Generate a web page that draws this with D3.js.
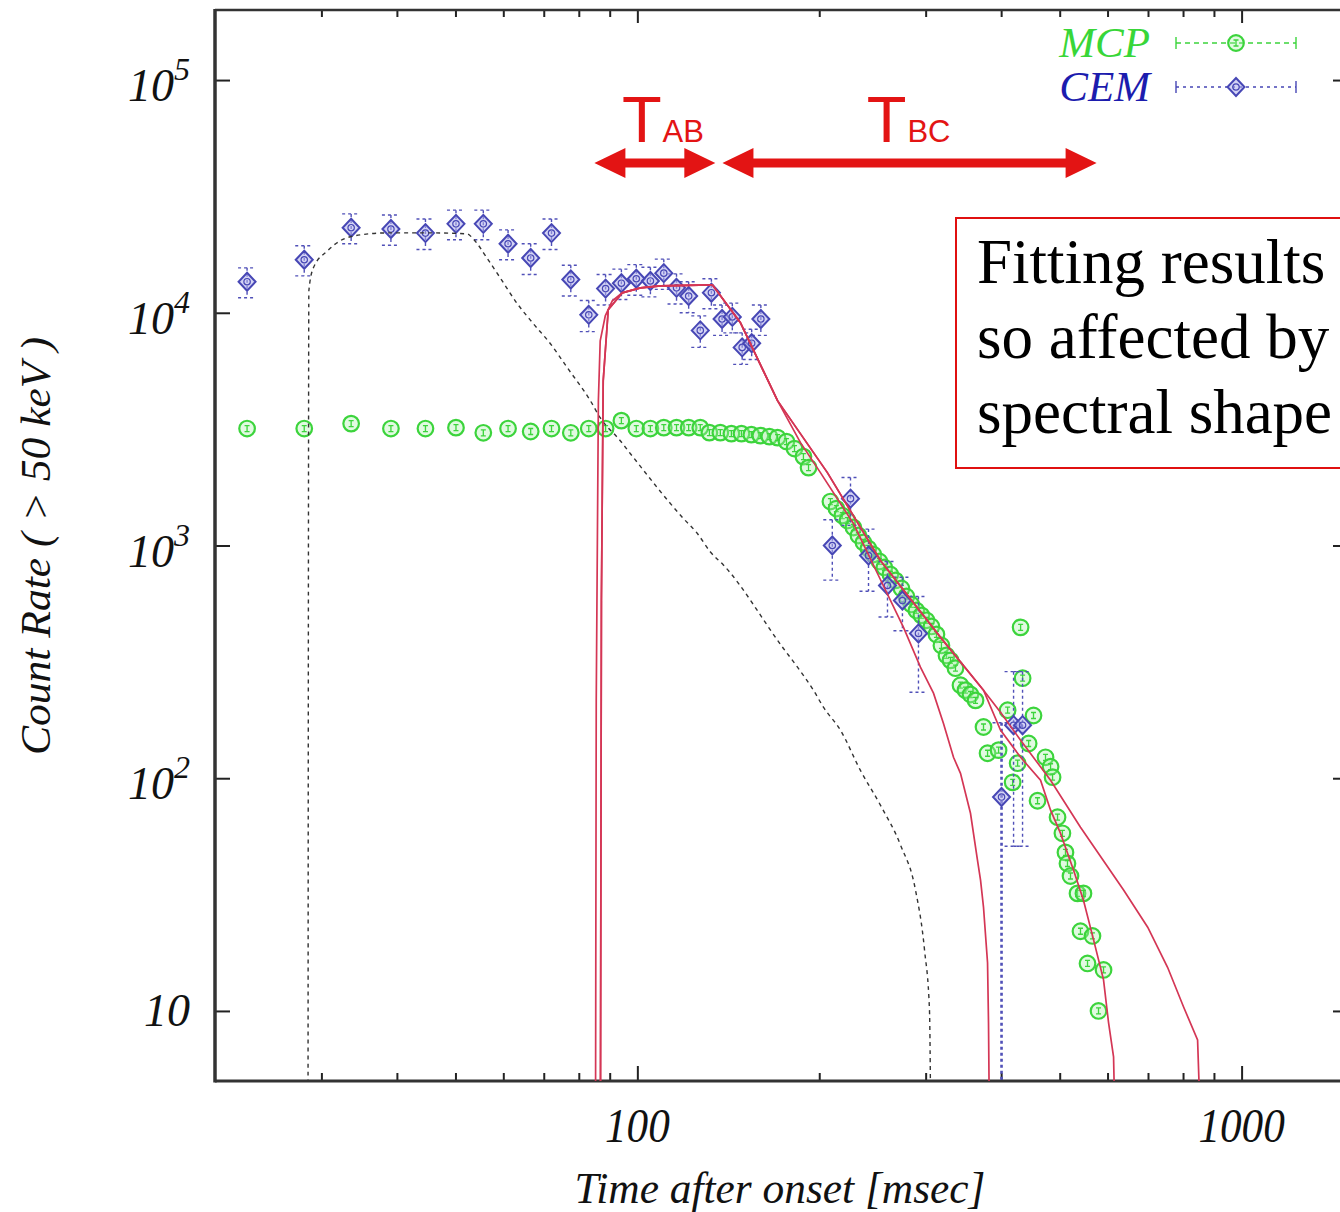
<!DOCTYPE html>
<html>
<head>
<meta charset="utf-8">
<script src="https://cdn.jsdelivr.net/npm/d3@7"></script>
<style>
  html, body { margin: 0; padding: 0; background: #fff; }
  svg { display: block; }
</style>
</head>
<body>
<svg id="chart" width="1340" height="1212"></svg>
<script>
// ---- data (time in msec, count rate) ----
const mcpTime = [22.6, 28.1, 33.6, 39.1, 44.6, 50.1, 55.6, 61.1, 66.6, 72.1, 77.6, 83.1, 88.6, 94.1, 99.6, 105.1, 110.6, 116.1, 121.6, 127.1,
  131.6, 137.2, 143.1, 148.7, 154.4, 159.8, 165.4, 170.6, 176.5, 182.0, 188.3, 192.0,
  208.7, 213.5, 218.4, 222.7, 227.8, 232.2, 236.7, 241.2, 245.8, 251.6, 256.3, 262.3, 267.4, 273.6, 278.8, 284.1, 289.6, 295.2,
  300.9, 306.7, 312.6, 318.6, 324.8, 329.8, 336.1, 342.6, 349.2, 355.9, 362.8,
  374.0, 379.8, 396.1, 410.0, 417.9, 425.9, 430.8, 434.1, 444.2, 452.5, 459.5, 473.7, 482.9, 486.6, 495.9, 505.2, 511.1, 515.0,
  521.0, 535.1, 541.2, 547.4, 555.9, 566.5, 579.7, 590.9];
const mcpRate = [3180, 3180, 3340, 3180, 3180, 3210, 3050, 3180, 3090, 3180, 3050, 3180, 3180, 3440, 3180, 3180, 3210, 3210, 3210, 3210,
  3055, 3055, 3025, 3025, 2995, 2966, 2937, 2908, 2796, 2609, 2410, 2161,
  1545, 1441, 1345, 1280, 1195, 1104, 1030, 971, 915, 854, 805, 751, 708, 654, 604, 558, 526, 501,
  477, 449, 415, 372, 337, 321, 297, 251, 239, 229, 216,
  166, 128, 132, 196, 96, 116, 445, 269, 141, 186, 80, 123, 112, 101, 68, 58, 48, 43,
  38, 32, 22, 32, 16, 21, 10, 15];

const cemTime = [22.6, 28.1, 33.6, 39.1, 44.6, 50.1, 55.6, 61.1, 66.6, 72.1, 77.6, 83.1, 88.6, 94.1, 99.6, 105.1, 110.6, 116.1,
  121.6, 127.1, 132.6, 138.1, 143.6, 149.1, 154.6, 160.1, 210.2, 225.3, 241.3, 259.4, 274.6, 291.9, 400.6, 419.4, 434.0];
const cemRate = [13600, 16900, 23200, 22900, 22000, 24100, 24100, 19800, 17200, 22000, 13900, 9800, 12700, 13400, 14000, 13700, 14800, 12800,
  11800, 8400, 12200, 9400, 9600, 7100, 7400, 9400, 1000, 1590, 906, 673, 580, 419, 83, 169, 169];
const cemErr = [2000, 2500, 3400, 3400, 3300, 3500, 3500, 2900, 2600, 3300, 2100, 1500, 1900, 2000, 2100, 2000, 2200, 1900,
  1800, 1300, 1800, 1400, 1400, 1100, 1100, 1400, 290, 370, 270, 180, 150, 185, 90, 118, 118];

// model curves [time, rate]
const fitDashed = [[28.5, 1], [28.6, 12430], [29.1, 15600], [30.7, 18460], [32.2, 20370], [34.8, 21610], [38.6, 22040], [45.9, 22040],
  [52.3, 21830], [53.5, 20780], [56.5, 17050], [59.3, 14130], [63.3, 10930], [67.3, 8970], [71.8, 7360], [76.6, 5800], [83.6, 4190],
  [86.8, 3540], [93.7, 2820], [97.4, 2480], [119.2, 1306], [125.7, 1126], [132.1, 938], [138.8, 825], [174.5, 361], [184.1, 300],
  [195.6, 239], [203.2, 202], [216.8, 161], [234.0, 108], [252.5, 76.6], [272.6, 51.6], [288.6, 33.1], [298.7, 18.3], [304.4, 10.1], [306.7, 1]];
const fitA = [[85.2, 1], [85.5, 216], [86.2, 4192], [86.8, 7583], [88.5, 9708], [90.9, 11260], [94.4, 12180], [101.2, 12800], [109.2, 13060],
  [133.1, 13190], [148.1, 9060], [170.6, 4192], [186.2, 2768], [200.9, 2057], [227.8, 1243], [249.7, 758], [275.7, 445],
  [294.1, 300], [309.1, 232], [321.1, 172], [333.6, 123], [342.6, 105], [355.9, 70.7], [365.5, 44.5], [369.8, 36.5], [374.0, 27.9],
  [379.8, 16.1], [381.2, 8.9], [384.1, 1]];
const fitB = [[86.8, 1], [87.2, 581], [87.8, 5107], [89.5, 10300], [94.4, 12180], [101.2, 12800], [109.2, 13060], [133.1, 13190],
  [148.1, 9060], [170.6, 4192], [206.3, 2057], [252.5, 862], [317.5, 403], [374.0, 239], [399.0, 161], [430.8, 123], [464.8, 98],
  [482.9, 72.9], [501.4, 58.1], [527.0, 40.3], [547.4, 29.9], [568.9, 20.2], [590.9, 13.6], [602.3, 8.9], [613.9, 6.35], [623.4, 1]];
const fitC = [[86.8, 1], [87.2, 581], [87.8, 5107], [89.5, 10300], [94.4, 12180], [101.2, 12800], [109.2, 13060], [133.1, 13190],
  [148.1, 9060], [170.6, 4192], [206.3, 2057], [252.5, 862], [317.5, 403], [374.0, 239], [399.0, 192], [430.8, 145.6], [482.9, 98.0],
  [541.2, 61.6], [637.8, 33.1], [699.2, 22.9], [754.2, 15.4], [801.7, 10.4], [845.6, 7.5], [868.0, 1]];

const xMajor = [100, 1000];
const xMinor = [30, 40, 50, 60, 70, 80, 90, 200, 300, 400, 500, 600, 700, 800, 900];
const yTicks = [10, 100, 1000, 10000, 100000];
const yTickExp = ['', '2', '3', '4', '5'];

// T_AB / T_BC intervals (msec) and the rate level they are drawn at
const spans = [
  { name: 'AB', from: 84.9, to: 134.6, label: 95.0 },
  { name: 'BC', from: 138.3, to: 575.5, label: 241.5 }
];
const spanRate = 44000;

const noteLines = ['Fitting results', 'so affected by', 'spectral shape'];

// ---- setup ----
const W = 1340, H = 1212;
const plot = { left: 215, top: 10, right: 1348, bottom: 1081 };
const serif = '"Liberation Serif", "DejaVu Serif", serif';
const sans = '"Liberation Sans", Arial, sans-serif';

const svg = d3.select('#chart');
svg.append('rect').attr('width', W).attr('height', H).attr('fill', '#fff');

const x = d3.scaleLog().domain([20, 1500]).range([plot.left, plot.right]);
const y = d3.scaleLog().domain([5, 2e5]).range([plot.bottom, plot.top]);

svg.append('defs').append('clipPath').attr('id', 'clip')
  .append('rect')
  .attr('x', plot.left).attr('y', plot.top)
  .attr('width', plot.right - plot.left).attr('height', plot.bottom - plot.top);

// ticks (all pointing inward, mirrored)
function ticks(axis, tr) {
  const g = svg.append('g').attr('transform', tr).call(axis);
  g.select('.domain').remove();
  g.selectAll('text').remove();
  g.selectAll('line').attr('stroke', '#222').attr('stroke-width', 2);
}
ticks(d3.axisBottom(x).tickValues(xMajor).tickSize(-15), `translate(0,${plot.bottom})`);
ticks(d3.axisBottom(x).tickValues(xMinor).tickSize(-8), `translate(0,${plot.bottom})`);
ticks(d3.axisTop(x).tickValues(xMajor).tickSize(-13), `translate(0,${plot.top})`);
ticks(d3.axisTop(x).tickValues(xMinor).tickSize(-7), `translate(0,${plot.top})`);
ticks(d3.axisLeft(y).tickValues(yTicks).tickSize(-15), `translate(${plot.left},0)`);
ticks(d3.axisRight(y).tickValues(yTicks).tickSize(-15), `translate(${plot.right},0)`);

// frame
svg.append('line').attr('x1', plot.left).attr('x2', W).attr('y1', plot.top).attr('y2', plot.top)
  .attr('stroke', '#333').attr('stroke-width', 2.5);
svg.append('line').attr('x1', plot.left).attr('x2', W).attr('y1', plot.bottom).attr('y2', plot.bottom)
  .attr('stroke', '#333').attr('stroke-width', 3);
svg.append('line').attr('x1', plot.left).attr('x2', plot.left).attr('y1', plot.top - 1).attr('y2', plot.bottom + 1.5)
  .attr('stroke', '#333').attr('stroke-width', 3.5);

// tick labels
svg.selectAll('.xlab').data(xMajor).join('text')
  .attr('x', d => x(d)).attr('y', 1142)
  .attr('text-anchor', 'middle')
  .attr('font-family', serif).attr('font-style', 'italic').attr('font-size', 48)
  .attr('textLength', d => String(d).length * 21.6).attr('lengthAdjust', 'spacingAndGlyphs')
  .attr('fill', '#111')
  .text(d => d);

const ylab = svg.selectAll('.ylab').data(yTicks).join('text')
  .attr('x', 190)
  .attr('y', (d, i) => y(d) + (yTickExp[i] ? 21 : 15))
  .attr('text-anchor', 'end')
  .attr('font-family', serif).attr('font-style', 'italic').attr('font-size', 46)
  .attr('fill', '#111');
ylab.append('tspan').text('10');
ylab.filter((d, i) => yTickExp[i])
  .append('tspan').attr('dy', -21).attr('font-size', 32)
  .text(d => yTickExp[yTicks.indexOf(d)]);

// axis titles
svg.append('text')
  .attr('x', 780).attr('y', 1203)
  .attr('text-anchor', 'middle')
  .attr('font-family', serif).attr('font-style', 'italic').attr('font-size', 44)
  .attr('textLength', 411).attr('lengthAdjust', 'spacingAndGlyphs')
  .attr('fill', '#111')
  .text('Time after onset [msec]');
svg.append('text')
  .attr('transform', 'translate(50,546) rotate(-90)')
  .attr('text-anchor', 'middle')
  .attr('font-family', serif).attr('font-style', 'italic').attr('font-size', 42)
  .attr('textLength', 418).attr('lengthAdjust', 'spacingAndGlyphs')
  .attr('fill', '#111')
  .text('Count Rate ( > 50 keV )');

// ---- data layer ----
const green = '#3cd43c';
const blue = '#4747b5';
const red = '#d43655';
const layer = svg.append('g').attr('clip-path', 'url(#clip)');

const mcp = mcpTime.map((t, i) => ({ t, c: mcpRate[i] }));
const cem = cemTime.map((t, i) => ({ t, c: cemRate[i], e: cemErr[i] }));

function circleMark(g) {
  g.append('circle').attr('r', 7.8)
    .attr('fill', 'rgba(170,240,170,0.35)').attr('stroke', green).attr('stroke-width', 2.2);
  g.append('path').attr('d', 'M-2.5,-3H2.5M0,-3V3M-2.5,3H2.5')
    .attr('stroke', green).attr('stroke-width', 1.3).attr('fill', 'none');
}
function diamondMark(g) {
  g.append('path').attr('d', 'M0,-9L8.5,0L0,9L-8.5,0Z')
    .attr('fill', 'rgba(175,175,235,0.55)').attr('stroke', blue).attr('stroke-width', 2);
  g.append('circle').attr('r', 3.2).attr('fill', 'none').attr('stroke', blue).attr('stroke-width', 1.2);
}

// MCP points
layer.append('g').selectAll('g').data(mcp).join('g')
  .attr('transform', d => `translate(${x(d.t)},${y(d.c)})`)
  .each(function () { circleMark(d3.select(this)); });

// CEM error bars
const eb = layer.append('g').selectAll('g').data(cem).join('g')
  .attr('stroke', '#5050b8').attr('stroke-width', 1.4).attr('stroke-dasharray', '3,3').attr('fill', 'none');
eb.append('line')
  .attr('x1', d => x(d.t)).attr('x2', d => x(d.t))
  .attr('y1', d => y(d.c + d.e))
  .attr('y2', d => (d.c - d.e > 1 ? y(d.c - d.e) : plot.bottom + 5))
  .attr('stroke-width', d => (d.c - d.e > 1 ? 1.4 : 2.6));
eb.append('line')
  .attr('x1', d => x(d.t) - 9).attr('x2', d => x(d.t) + 9)
  .attr('y1', d => y(d.c + d.e)).attr('y2', d => y(d.c + d.e));
eb.filter(d => d.c - d.e > 1).append('line')
  .attr('x1', d => x(d.t) - 9).attr('x2', d => x(d.t) + 9)
  .attr('y1', d => y(d.c - d.e)).attr('y2', d => y(d.c - d.e));

// CEM points
layer.append('g').selectAll('g').data(cem).join('g')
  .attr('transform', d => `translate(${x(d.t)},${y(d.c)})`)
  .each(function () { diamondMark(d3.select(this)); });

// model curves
const line = d3.line().x(d => x(d[0])).y(d => y(d[1]));
const smooth = d3.line().x(d => x(d[0])).y(d => y(d[1])).curve(d3.curveMonotoneX);
layer.append('path').datum(fitDashed).attr('d', smooth)
  .attr('fill', 'none').attr('stroke', '#333').attr('stroke-width', 1.4).attr('stroke-dasharray', '4,4');
[fitC, fitB, fitA].forEach(f => {
  layer.append('path').datum(f).attr('d', line)
    .attr('fill', 'none').attr('stroke', red).attr('stroke-width', 1.7);
});

// ---- legend ----
const legend = [
  { label: 'MCP', color: green, textColor: '#38d638', yy: 43, mark: circleMark, dash: '5,4' },
  { label: 'CEM', color: blue, textColor: '#1c1cae', yy: 87, mark: diamondMark, dash: '3,4' }
];
legend.forEach(l => {
  svg.append('text')
    .attr('x', 1150).attr('y', l.yy + 14)
    .attr('text-anchor', 'end')
    .attr('font-family', serif).attr('font-style', 'italic').attr('font-size', 43)
    .attr('fill', l.textColor)
    .text(l.label);
  const g = svg.append('g').attr('stroke', l.color).attr('stroke-width', 1.4).attr('fill', 'none');
  g.append('line').attr('x1', 1176).attr('x2', 1296).attr('y1', l.yy).attr('y2', l.yy).attr('stroke-dasharray', l.dash);
  g.append('line').attr('x1', 1176).attr('x2', 1176).attr('y1', l.yy - 6).attr('y2', l.yy + 6);
  g.append('line').attr('x1', 1296).attr('x2', 1296).attr('y1', l.yy - 6).attr('y2', l.yy + 6);
  l.mark(svg.append('g').attr('transform', `translate(1236,${l.yy})`));
});

// ---- T_AB / T_BC annotations ----
const arrowRed = '#e31414';
const yc = y(spanRate);
spans.forEach(s => {
  const x1 = x(s.from), x2 = x(s.to);
  const hl = 31, hh = 15, st = 4.5;
  const p = [
    [x1, yc], [x1 + hl, yc - hh], [x1 + hl, yc - st], [x2 - hl, yc - st], [x2 - hl, yc - hh],
    [x2, yc], [x2 - hl, yc + hh], [x2 - hl, yc + st], [x1 + hl, yc + st], [x1 + hl, yc + hh]
  ];
  svg.append('path').attr('d', 'M' + p.join('L') + 'Z').attr('fill', arrowRed);
  const lx = x(s.label);
  const tt = svg.append('text')
    .attr('x', lx - 2).attr('y', 142)
    .attr('font-family', sans).attr('font-size', 65)
    .attr('fill', arrowRed)
    .text('T');
  const tw = tt.node().getComputedTextLength();
  svg.append('text')
    .attr('x', lx - 2 + tw + 1).attr('y', 142)
    .attr('font-family', sans).attr('font-size', 31)
    .attr('fill', arrowRed)
    .text(s.name);
});

// ---- note box ----
svg.append('rect')
  .attr('x', 956).attr('y', 218).attr('width', 420).attr('height', 250)
  .attr('fill', '#fff').attr('stroke', '#e01010').attr('stroke-width', 2);
svg.selectAll('.note').data(noteLines).join('text')
  .attr('x', 977).attr('y', (d, i) => 283 + i * 75)
  .attr('font-family', serif).attr('font-size', 63)
  .attr('fill', '#000')
  .text(d => d);
</script>
</body>
</html>
